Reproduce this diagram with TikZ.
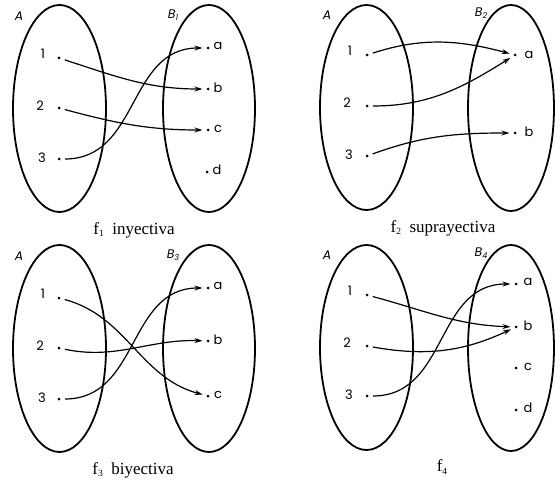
\documentclass[tikz,border=0pt]{standalone}
\usepackage{fontspec}
\setmainfont{Liberation Serif}
\newfontfamily\lblfont{Poppins}
\usetikzlibrary{arrows.meta}
\tikzset{
  setline/.style={line width=1.8pt},
  dotpt/.style={circle,fill=black,inner sep=0pt,minimum size=3pt,outer sep=0pt},
  lbl/.style={font=\lblfont\fontsize{13}{14}\selectfont,inner sep=0pt,anchor=center},
  setlbl/.style={font=\lblfont\itshape\fontsize{12.5}{13}\selectfont,inner sep=0pt},
  arr/.style={line width=1.2pt,-{Stealth[length=8pt,width=5pt]},shorten <=4.5pt,shorten >=4pt},
  capt/.style={font=\fontsize{17}{19}\selectfont,inner sep=0pt}
}
\newcommand{\fsub}[1]{f\raisebox{-2.5pt}{\fontsize{9.5}{9.5}\selectfont #1}}
\begin{document}
\begin{tikzpicture}[x=1pt,y=-1pt]
\useasboundingbox (0,0) rectangle (555,487);
% ---------- Panel 1 ----------
\draw[setline] (59.5,108.5) ellipse [x radius=46.5, y radius=103.5];
\draw[setline] (209,108.5) ellipse [x radius=46, y radius=103.5];
\node[setlbl] (A1) at (19,16) {A};
\node[setlbl] (B1) at (173,15) {B\raisebox{-2pt}{\fontsize{8}{8}\selectfont 1}};
\node[dotpt] (p11) at (59,58) {};
\node[dotpt] (p12) at (59,108) {};
\node[dotpt] (p13) at (59,159) {};
\node[lbl] at (43,54) {1};
\node[lbl] at (40,106) {2};
\node[lbl] at (42,158) {3};
\node[dotpt] (q1a) at (208,48) {};
\node[dotpt] (q1b) at (208,89) {};
\node[dotpt] (q1c) at (208,130) {};
\node[dotpt] (q1d) at (207,172) {};
\node[lbl] at (218,46) {a};
\node[lbl] at (218,88) {b};
\node[lbl] at (218,129) {c};
\node[lbl] at (217,170) {d};
\draw[arr] (p11) to[out=-18,in=180] (q1b);
\draw[arr] (p12) to[out=-15,in=180] (q1c);
\draw[arr] (p13) to[out=0,in=180,looseness=1.1] (q1a);
\node[capt] (c1) at (134,230) {\fsub{1}\ \ inyectiva};
% ---------- Panel 2 ----------
\draw[setline] (366.5,107.5) ellipse [x radius=46.5, y radius=102.5];
\draw[setline] (511,108) ellipse [x radius=43, y radius=103];
\node[setlbl] (A2) at (327,15) {A};
\node[setlbl] (B2) at (481,13) {B\raisebox{-2pt}{\fontsize{8}{8}\selectfont 2}};
\node[dotpt] (p21) at (367,55) {};
\node[dotpt] (p22) at (367,106) {};
\node[dotpt] (p23) at (367,156) {};
\node[lbl] at (350,51) {1};
\node[lbl] at (347,103) {2};
\node[lbl] at (349,155) {3};
\node[dotpt] (q2a) at (515,55) {};
\node[dotpt] (q2b) at (515,133) {};
\node[lbl] at (529,55) {a};
\node[lbl] at (529,132) {b};
\draw[arr] (p21) to[out=18,in=165] (q2a);
\draw[arr] (p22) to[out=0,in=212] (q2a);
\draw[arr] (p23) to[out=20,in=180] (q2b);
\node[capt] (c2) at (443,228) {\fsub{2}\ \ suprayectiva};
% ---------- Panel 3 ----------
\draw[setline] (59.5,348.5) ellipse [x radius=46.5, y radius=103.5];
\draw[setline] (209,348.5) ellipse [x radius=46, y radius=103.5];
\node[setlbl] (A3) at (19,256) {A};
\node[setlbl] (B3) at (173,255) {B\raisebox{-2pt}{\fontsize{8}{8}\selectfont 3}};
\node[dotpt] (p31) at (59,298) {};
\node[dotpt] (p32) at (59,348) {};
\node[dotpt] (p33) at (59,399) {};
\node[lbl] at (43,294) {1};
\node[lbl] at (40,346) {2};
\node[lbl] at (42,398) {3};
\node[dotpt] (q3a) at (208,288) {};
\node[dotpt] (q3b) at (208,341) {};
\node[dotpt] (q3c) at (208,396) {};
\node[lbl] at (218,286) {a};
\node[lbl] at (218,340) {b};
\node[lbl] at (218,395) {c};
\draw[arr] (p31) to[out=-15,in=165] (q3c);
\draw[arr] (p32) to[out=-12,in=178] (q3b);
\draw[arr] (p33) to[out=0,in=180,looseness=1.1] (q3a);
\node[capt] (c3) at (133,470) {\fsub{3}\ \ biyectiva};
% ---------- Panel 4 ----------
\draw[setline] (366.5,347.5) ellipse [x radius=46.5, y radius=102.5];
\draw[setline] (511,348) ellipse [x radius=43, y radius=103];
\node[setlbl] (A4) at (327,255) {A};
\node[setlbl] (B4) at (481,253) {B\raisebox{-2pt}{\fontsize{8}{8}\selectfont 4}};
\node[dotpt] (p41) at (367,295) {};
\node[dotpt] (p42) at (367,346) {};
\node[dotpt] (p43) at (367,396) {};
\node[lbl] at (350,291) {1};
\node[lbl] at (347,343) {2};
\node[lbl] at (349,395) {3};
\node[dotpt] (q4a) at (516,284) {};
\node[dotpt] (q4b) at (516,327) {};
\node[dotpt] (q4c) at (516,368) {};
\node[dotpt] (q4d) at (516,410) {};
\node[lbl] at (528,282) {a};
\node[lbl] at (528,326) {b};
\node[lbl] at (528,367) {c};
\node[lbl] at (528,408) {d};
\draw[arr] (p41) to[out=-15,in=178] (q4b);
\draw[arr] (p42) to[out=-10,in=205] (q4b);
\draw[arr] (p43) to[out=0,in=180,looseness=1.1] (q4a);
\node[capt] (c4) at (442,467) {\fsub{4}};
\end{tikzpicture}
\end{document}
